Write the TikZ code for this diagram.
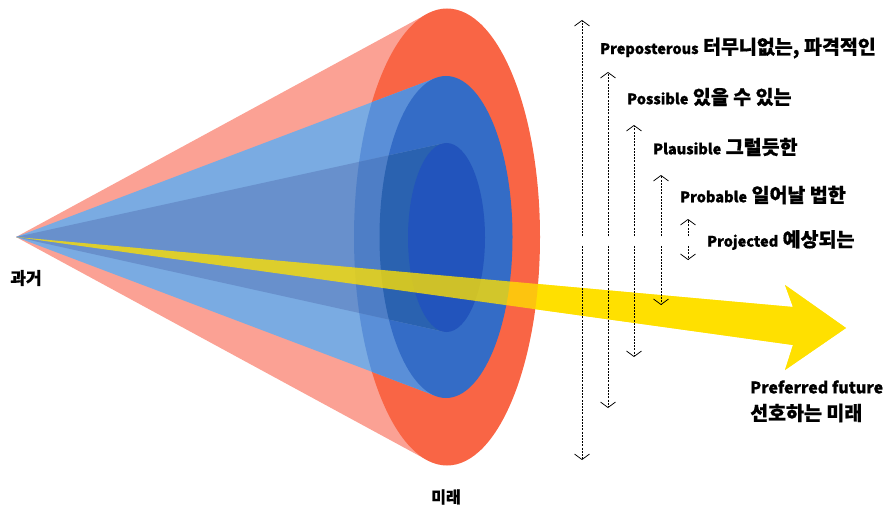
\documentclass[tikz,border=0pt]{standalone}
\usepackage{fontspec}
\usetikzlibrary{arrows.meta}
\newfontfamily\kr{Noto Sans CJK KR}[BoldFeatures={FakeBold=0.7}]
\definecolor{pinkcone}{HTML}{FBA194}
\definecolor{redell}{HTML}{F96545}
\definecolor{lbcone}{HTML}{7AABE2}
\definecolor{lbonred}{HTML}{5A8FD8}
\definecolor{blueell}{HTML}{346CC6}
\definecolor{incone}{HTML}{6890CC}
\definecolor{inonred}{HTML}{4E7EC6}
\definecolor{inonblue}{HTML}{2A62B0}
\definecolor{inell}{HTML}{2254BC}
\definecolor{yel}{HTML}{FFE000}
\newcommand\enfont{\kr\bfseries\fontsize{14.5}{16}\selectfont}
\tikzset{
  dasharr/.style={line width=0.75pt, dash pattern=on 2pt off 1.2pt, -{Straight Barb[length=5.5pt,width=15pt,line width=0.75pt]}},
  lab/.style={anchor=west, inner sep=0pt, font=\kr\bfseries\fontsize{19.5}{21}\selectfont},
}
\begin{document}
\begin{tikzpicture}[x=1pt,y=-1pt]
\useasboundingbox (0,0) rectangle (886,508);
\coordinate (apex) at (16,237);
% yellow arrow shape
\def\yarrow{(apex) -- (793,307) -- (785,285) -- (846,328) -- (785,370) -- (793,345) -- cycle}
\fill[yel] \yarrow;
% outer cone
\fill[pinkcone] (apex) -- (427,14) -- (427,460) -- cycle;
\fill[redell] (447,237) ellipse [x radius=93pt, y radius=228.5pt];
% middle cone
\fill[lbcone] (apex) -- (436,78) -- (436,396) -- cycle;
\begin{scope}
  \clip (447,237) ellipse [x radius=93pt, y radius=228.5pt];
  \fill[lbonred] (apex) -- (436,78) -- (436,396) -- cycle;
\end{scope}
\fill[blueell] (446,237) ellipse [x radius=66.5pt, y radius=161pt];
% inner cone
\fill[incone] (apex) -- (443,143.5) -- (443,331.5) -- cycle;
\begin{scope}
  \clip (447,237) ellipse [x radius=93pt, y radius=228.5pt];
  \fill[inonred] (apex) -- (443,143.5) -- (443,331.5) -- cycle;
\end{scope}
\begin{scope}
  \clip (446,237) ellipse [x radius=66.5pt, y radius=161pt];
  \fill[inonblue] (apex) -- (443,143.5) -- (443,331.5) -- cycle;
\end{scope}
\fill[inell] (446.5,237.5) ellipse [x radius=38.5pt, y radius=94.5pt];
% translucent yellow over everything
\fill[yel, opacity=0.78] \yarrow;
% dashed range arrows
\foreach \n/\x/\t/\b in {a/582/20/460, b/608/72/408, c/634/125/357, d/661/175/305, e/688/219/260}{
  \coordinate (\n top) at (\x,\t);
  \coordinate (\n bot) at (\x,\b);
  \coordinate (\n up) at (\x,236);
  \coordinate (\n dn) at (\x,246);
  \draw[dasharr] (\n up) -- (\n top);
  \draw[dasharr] (\n dn) -- (\n bot);
}
% labels
\node[lab] (lpre) at (600,48) {{\enfont Preposterous} 터무니없는, 파격적인};
\node[lab] (lpos) at (627,97) {{\enfont Possible} 있을 수 있는};
\node[lab] (lpla) at (653,147) {{\enfont Plausible} 그럴듯한};
\node[lab] (lpro) at (680,195) {{\enfont Probable} 일어날 법한};
\node[lab] (lprj) at (707,240) {{\enfont Projected} 예상되는};
\node[lab, font=\kr\bfseries\fontsize{16}{18}\selectfont] (lpf) at (750,387) {Preferred future};
\node[lab] (lpk) at (750,413) {선호하는 미래};
\node[inner sep=0pt, font=\kr\bfseries\fontsize{17}{19}\selectfont] (past) at (26,278) {과거};
\node[inner sep=0pt, font=\kr\bfseries\fontsize{16}{18}\selectfont] (fut) at (446,497) {미래};
\end{tikzpicture}
\end{document}
